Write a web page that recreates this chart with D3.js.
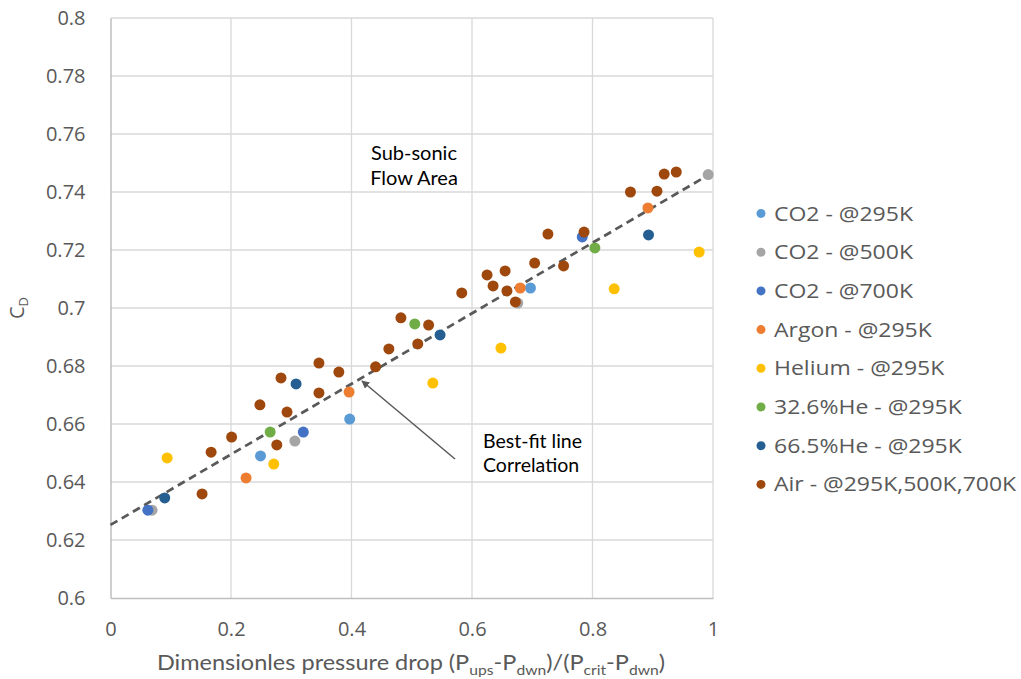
<!DOCTYPE html>
<html>
<head>
<meta charset="utf-8">
<script src="https://cdn.jsdelivr.net/npm/d3@7"></script>
<style>
  body { margin: 0; background: #fff; }
  svg { display: block; }
</style>
</head>
<body>
<svg id="chart" width="1021" height="679"></svg>
<script>
// ---- data ----
const seriesNames = ["CO2 - @295K", "CO2 - @500K", "CO2 - @700K", "Argon - @295K",
  "Helium - @295K", "32.6%He - @295K", "66.5%He - @295K", "Air - @295K,500K,700K"];
const seriesColors = ["#5B9BD5", "#A5A5A5", "#4472C4", "#ED7D31", "#FFC000", "#70AD47", "#255E91", "#9E480E"];

const co2_295 = [[0.249, 0.6490], [0.397, 0.6617], [0.697, 0.7069]];
const co2_500 = [[0.069, 0.6303], [0.306, 0.6541], [0.676, 0.7017], [0.992, 0.7460]];
const co2_700 = [[0.062, 0.6303], [0.320, 0.6572], [0.783, 0.7245]];
const argon_295 = [[0.225, 0.6414], [0.396, 0.6710], [0.680, 0.7069], [0.892, 0.7345]];
const helium_295 = [[0.094, 0.6483], [0.271, 0.6462], [0.535, 0.6741], [0.648, 0.6862], [0.836, 0.7066], [0.977, 0.7193]];
const he326_295 = [[0.265, 0.6572], [0.505, 0.6945], [0.804, 0.7207]];
const he665_295 = [[0.090, 0.6345], [0.308, 0.6738], [0.547, 0.6907], [0.893, 0.7252]];
const air = [[0.152, 0.6359], [0.167, 0.6503], [0.201, 0.6555], [0.248, 0.6666], [0.276, 0.6528],
  [0.283, 0.6759], [0.293, 0.6641], [0.346, 0.6810], [0.346, 0.6707], [0.379, 0.6779],
  [0.440, 0.6797], [0.462, 0.6859], [0.482, 0.6966], [0.510, 0.6876], [0.528, 0.6941],
  [0.583, 0.7052], [0.625, 0.7114], [0.635, 0.7076], [0.655, 0.7128], [0.658, 0.7059],
  [0.672, 0.7021], [0.704, 0.7155], [0.726, 0.7255], [0.752, 0.7145], [0.786, 0.7262],
  [0.863, 0.7400], [0.907, 0.7403], [0.919, 0.7462], [0.939, 0.7469]];
const seriesData = [co2_295, co2_500, co2_700, argon_295, helium_295, he326_295, he665_295, air];

const fitLine = [[0, 0.6252], [1, 0.7468]];

const xTicks = [0, 0.2, 0.4, 0.6, 0.8, 1];
const xTickLabels = ["0", "0.2", "0.4", "0.6", "0.8", "1"];
const yTicks = [0.6, 0.62, 0.64, 0.66, 0.68, 0.7, 0.72, 0.74, 0.76, 0.78, 0.8];
const yTickLabels = ["0.6", "0.62", "0.64", "0.66", "0.68", "0.7", "0.72", "0.74", "0.76", "0.78", "0.8"];

// ---- layout ----
const svg = d3.select("#chart");
const L = 110.5, T = 18, W = 602.5, H = 580;
const x = d3.scaleLinear().domain([0, 1]).range([L, L + W]);
const y = d3.scaleLinear().domain([0.6, 0.8]).range([T + H, T]);
const tickFont = "'Open Sans', sans-serif";
const txt = "#595959";

// gridlines
svg.append("g").selectAll("line").data(yTicks.slice(1)).join("line")
  .attr("x1", L).attr("x2", L + W).attr("y1", d => y(d)).attr("y2", d => y(d))
  .attr("stroke", "#D9D9D9").attr("stroke-width", 1.3);
svg.append("g").selectAll("line").data(xTicks.slice(1)).join("line")
  .attr("y1", T).attr("y2", T + H).attr("x1", d => x(d)).attr("x2", d => x(d))
  .attr("stroke", "#D9D9D9").attr("stroke-width", 1.3);

// axes
const xAxis = d3.axisBottom(x).tickValues(xTicks).tickFormat((d, i) => xTickLabels[i]).tickSize(0).tickPadding(24);
const gx = svg.append("g").attr("transform", `translate(0,${T + H})`).call(xAxis);
gx.select(".domain").attr("stroke", "#BFBFBF").attr("stroke-width", 1.5);
gx.selectAll("text").attr("font-family", tickFont).attr("font-size", 20).attr("fill", txt);

const yAxis = d3.axisLeft(y).tickValues(yTicks).tickFormat((d, i) => yTickLabels[i]).tickSize(0).tickPadding(25);
const gy = svg.append("g").attr("transform", `translate(${L},0)`).call(yAxis);
gy.select(".domain").attr("stroke", "#BFBFBF").attr("stroke-width", 1.5);
gy.selectAll("text").attr("font-family", tickFont).attr("font-size", 20).attr("fill", txt);

// best-fit line
svg.append("path")
  .attr("d", d3.line().x(d => x(d[0])).y(d => y(d[1]))(fitLine))
  .attr("stroke", "#595959").attr("stroke-width", 2.75).attr("stroke-dasharray", "8,5").attr("fill", "none");

// points
seriesData.forEach((pts, i) => {
  svg.append("g").selectAll("circle").data(pts).join("circle")
    .attr("cx", d => x(d[0])).attr("cy", d => y(d[1])).attr("r", 5.5)
    .attr("fill", seriesColors[i]);
});

// annotations
const annoFont = "Lato, 'Open Sans', sans-serif";
svg.append("text").attr("x", 414).attr("y", 160).attr("text-anchor", "middle")
  .attr("font-family", annoFont).attr("font-size", 20).attr("fill", "#000").text("Sub-sonic");
svg.append("text").attr("x", 414).attr("y", 185).attr("text-anchor", "middle")
  .attr("font-family", annoFont).attr("font-size", 20).attr("fill", "#000").text("Flow Area");
svg.append("text").attr("x", 483).attr("y", 448)
  .attr("font-family", annoFont).attr("font-size", 19.5).attr("fill", "#000").text("Best-fit line");
svg.append("text").attr("x", 483).attr("y", 472)
  .attr("font-family", annoFont).attr("font-size", 19.5).attr("fill", "#000").text("Correlation");

// arrow
svg.append("defs").append("marker").attr("id", "ah").attr("viewBox", "0 0 10 10")
  .attr("refX", 9).attr("refY", 5).attr("markerWidth", 8).attr("markerHeight", 8)
  .attr("markerUnits", "userSpaceOnUse").attr("orient", "auto")
  .append("path").attr("d", "M0,0 L10,5 L0,10 z").attr("fill", "#595959");
svg.append("line").attr("x1", 455).attr("y1", 459).attr("x2", 362).attr("y2", 381)
  .attr("stroke", "#595959").attr("stroke-width", 1.5).attr("marker-end", "url(#ah)");

// axis titles
const xt = svg.append("text").attr("transform", "translate(411,670) scale(1.12,1)").attr("text-anchor", "middle")
  .attr("font-family", annoFont).attr("font-size", 21).attr("fill", txt);
xt.append("tspan").text("Dimensionles pressure drop (P");
xt.append("tspan").attr("font-size", 14).attr("dy", 5).text("ups");
xt.append("tspan").attr("dy", -5).text("-P");
xt.append("tspan").attr("font-size", 14).attr("dy", 5).text("dwn");
xt.append("tspan").attr("dy", -5).text(")/(P");
xt.append("tspan").attr("font-size", 14).attr("dy", 5).text("crit");
xt.append("tspan").attr("dy", -5).text("-P");
xt.append("tspan").attr("font-size", 14).attr("dy", 5).text("dwn");
xt.append("tspan").attr("dy", -5).text(")");

const yt = svg.append("text").attr("transform", "translate(24,308) rotate(-90)").attr("text-anchor", "middle")
  .attr("font-family", tickFont).attr("font-size", 20).attr("fill", txt);
yt.append("tspan").text("C");
yt.append("tspan").attr("font-size", 13).attr("dy", 4).text("D");

// legend
const lg = svg.append("g");
seriesNames.forEach((name, i) => {
  const yy = 213.5 + i * 38.7;
  lg.append("circle").attr("cx", 761).attr("cy", yy).attr("r", 4.5).attr("fill", seriesColors[i]);
  lg.append("text").attr("transform", `translate(774,${yy + 7}) scale(1.15,1)`).attr("font-family", tickFont)
    .attr("font-size", 20).attr("fill", txt).text(name);
});
</script>
</body>
</html>
